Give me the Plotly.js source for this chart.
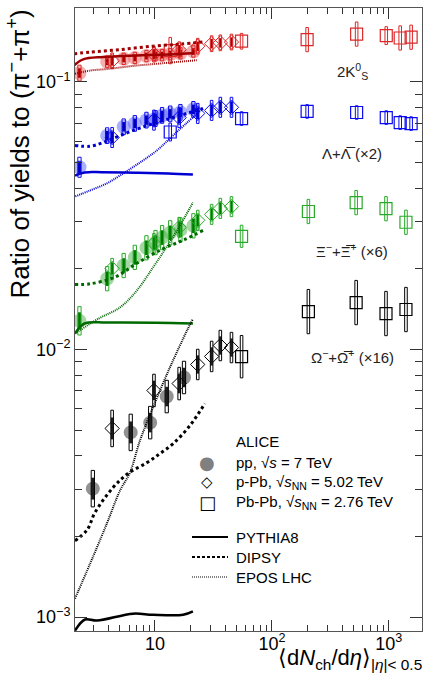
<!DOCTYPE html>
<html>
<head>
<meta charset="utf-8">
<script src="https://cdn.plot.ly/plotly-3.0.1.min.js"></script>
<style>html,body{margin:0;padding:0;background:#fff;}#chart{width:424px;height:685px;}</style>
</head>
<body>
<div id="chart"></div>
<script>
// ---------- multiplicity (x) values ----------
const xPP      = [2.26, 3.90, 5.40, 6.72, 8.45, 10.1, 11.5, 13.5, 16.5, 21.3];
const xPPOmega = [2.94, 6.2, 9.1, 12.6, 17.7];
const xPPb     = [4.3, 9.8, 16.1, 23.2, 30.5, 36.2, 45.1];
const xPbPbV0  = [13.5, 55, 200, 530, 950, 1250, 1550];
const xPbPbCas = [55, 205, 525, 945, 1400];

// ---------- 2K0S / (pi+ + pi-) ----------
const k0PP    = [0.108, 0.119, 0.122, 0.123, 0.125, 0.126, 0.126, 0.127, 0.128, 0.130];
const k0PPb   = [0.120, 0.127, 0.132, 0.136, 0.139, 0.140, 0.141];
const k0PbPb  = [0.131, 0.142, 0.144, 0.151, 0.149, 0.146, 0.147];
const k0PPSys   = [0.07, 0.05, 0.05, 0.05, 0.05, 0.05, 0.05, 0.05, 0.05, 0.05];
const k0PPbSys  = [0.07, 0.07, 0.07, 0.07, 0.07, 0.07, 0.07];
const k0PbPbSys = [0.12, 0.07, 0.11, 0.11, 0.08, 0.11, 0.11];

// ---------- Lambda (x2) ----------
const lamPP   = [0.048, 0.063, 0.068, 0.070, 0.072, 0.073, 0.075, 0.076, 0.077, 0.079];
const lamPPb  = [0.062, 0.072, 0.0736, 0.0763, 0.0783, 0.0804, 0.0804];
const lamPbPb = [0.065, 0.073, 0.0776, 0.0769, 0.0736, 0.0705, 0.0699];
const lamPPSys   = [0.09, 0.07, 0.07, 0.07, 0.07, 0.07, 0.07, 0.07, 0.07, 0.07];
const lamPPbSys  = [0.09, 0.09, 0.09, 0.09, 0.09, 0.09, 0.09];
const lamPbPbSys = [0.08, 0.06, 0.06, 0.06, 0.06, 0.06, 0.06];

// ---------- Xi (x6) ----------
const xiPP   = [0.0128, 0.0184, 0.0206, 0.0221, 0.0240, 0.0251, 0.0262, 0.0273, 0.0280, 0.0290];
const xiPPb  = [0.0201, 0.0249, 0.0286, 0.0304, 0.0320, 0.0337, 0.0342];
const xiPbPb = [0.0265, 0.0328, 0.0354, 0.0336, 0.0299];
const xiPPSys   = [0.13, 0.11, 0.11, 0.11, 0.11, 0.11, 0.11, 0.11, 0.11, 0.11];
const xiPPbSys  = [0.09, 0.09, 0.09, 0.09, 0.09, 0.09, 0.09];
const xiPbPbSys = [0.10, 0.11, 0.11, 0.11, 0.11];

// ---------- Omega (x16) ----------
const omPP   = [0.00302, 0.00490, 0.00533, 0.00667, 0.00786];
const omPPb  = [0.00507, 0.00703, 0.00746, 0.00879, 0.00942, 0.01035, 0.01017];
const omPbPb = [0.0094, 0.01386, 0.01498, 0.01363, 0.01411];
const omPPSys   = [0.17, 0.17, 0.15, 0.15, 0.15];
const omPPbSys  = [0.17, 0.15, 0.15, 0.14, 0.14, 0.14, 0.14];
const omPbPbSys = [0.20, 0.21, 0.21, 0.21, 0.21];

// ---------- models ----------
const pyK0x = [2.03, 2.43, 3.6, 7.0, 13.4, 21.1];
const pyK0y = [0.1152, 0.1214, 0.124, 0.1257, 0.1268, 0.128];
const diK0x = [2.03, 2.78, 5.02, 9.6, 16.4, 25.7];
const diK0y = [0.1275, 0.1293, 0.1321, 0.1361, 0.1385, 0.1411];
const epK0x = [2.07, 2.78, 3.88, 7.0, 11.7, 22.8];
const epK0y = [0.1073, 0.1103, 0.1118, 0.1152, 0.1175, 0.1206];

const pyLamx = [2.07, 2.5, 3.5, 7.0, 13.0, 21.1];
const pyLamy = [0.0447, 0.0459, 0.0460, 0.0458, 0.0455, 0.0451];
const diLamx = [2.07, 2.78, 3.6, 5.02, 7.6, 13.4, 25.7];
const diLamy = [0.0579, 0.0575, 0.0594, 0.063, 0.0675, 0.073, 0.0796];
const epLamx = [2.0, 2.78, 3.88, 5.02, 7.44, 10.4, 13.4, 18.1, 25.7];
const epLamy = [0.0371, 0.0393, 0.0418, 0.0447, 0.0500, 0.0555, 0.0615, 0.0694, 0.0796];

const pyXix = [2.07, 2.5, 3.88, 10.0, 21.1];
const pyXiy = [0.01148, 0.01251, 0.01261, 0.0126, 0.01251];
const diXix = [2.07, 2.78, 4.5, 7.0, 11.7, 17.4, 26.7];
const diXiy = [0.0175, 0.0176, 0.0186, 0.0210, 0.0238, 0.0256, 0.0281];
const epXix = [2.07, 3.3, 5.0, 7.0, 9.6, 12.5, 16.0, 21.1];
const epXiy = [0.01148, 0.01306, 0.01435, 0.01662, 0.02025, 0.02406, 0.02858, 0.03543];

const pyOmx = [2.07, 2.52, 3.19, 6.48, 9.6, 17.4, 21.1];
const pyOmy = [0.00089, 0.000979, 0.00097, 0.00103, 0.00102, 0.00102, 0.00105];
const diOmx = [2.07, 2.63, 3.07, 4.38, 5.88, 8.55, 11.0, 14.3, 19.9, 26.7];
const diOmy = [0.00193, 0.00212, 0.00246, 0.00305, 0.00344, 0.00378, 0.00408, 0.00445, 0.00520, 0.00628];
const epOmx = [2.07, 2.78, 3.88, 5.02, 6.11, 7.44, 9.6, 13.4, 18.8, 21.1];
const epOmy = [0.001173, 0.00158, 0.00224, 0.00297, 0.00347, 0.00457, 0.00607, 0.00856, 0.01178, 0.0130];

// ---------- tick labels ----------
const xTickVals = [10, 100, 1000];
const xTickText = ['10', '10<sup>2</sup>', '10<sup>3</sup>'];
const yTickVals = [0.001, 0.01, 0.1];
const yTickText = ['10<sup>−3</sup>', '10<sup>−2</sup>', '10<sup>−1</sup>'];

// ---------- styling ----------
const FONT = 'Liberation Sans, Arial, Helvetica, sans-serif';
const species = [
  {pp:[xPP,k0PP,k0PPSys], ppb:[xPPb,k0PPb,k0PPbSys], pbpb:[xPbPbV0,k0PbPb,k0PbPbSys],
   models:[[pyK0x,pyK0y],[diK0x,diK0y],[epK0x,epK0y]],
   circ:'rgba(238,110,110,0.55)', box:'rgb(220,40,40)', dark:'rgb(170,0,0)', line:'rgb(160,0,0)'},
  {pp:[xPP,lamPP,lamPPSys], ppb:[xPPb,lamPPb,lamPPbSys], pbpb:[xPbPbV0,lamPbPb,lamPbPbSys],
   models:[[pyLamx,pyLamy],[diLamx,diLamy],[epLamx,epLamy]],
   circ:'rgba(100,110,255,0.55)', box:'rgb(10,10,240)', dark:'rgb(0,0,180)', line:'rgb(0,0,210)'},
  {pp:[xPP,xiPP,xiPPSys], ppb:[xPPb,xiPPb,xiPPbSys], pbpb:[xPbPbCas,xiPbPb,xiPbPbSys],
   models:[[pyXix,pyXiy],[diXix,diXiy],[epXix,epXiy]],
   circ:'rgba(90,180,90,0.55)', box:'rgb(40,170,40)', dark:'rgb(0,120,0)', line:'rgb(0,105,0)'},
  {pp:[xPPOmega,omPP,omPPSys], ppb:[xPPb,omPPb,omPPbSys], pbpb:[xPbPbCas,omPbPb,omPbPbSys],
   models:[[pyOmx,pyOmy],[diOmx,diOmy],[epOmx,epOmy]],
   circ:'rgba(110,110,110,0.75)', box:'rgb(0,0,0)', dark:'rgb(30,30,30)', line:'rgb(0,0,0)'}
];

function boxTrace(xs, ys, rel, halfDec, color, width) {
  const f = Math.pow(10, halfDec);
  const X = [], Y = [];
  xs.forEach((x, i) => {
    const hi = ys[i] * (1 + rel[i]), lo = ys[i] / (1 + rel[i]);
    X.push(x / f, x * f, x * f, x / f, x / f, null);
    Y.push(lo, lo, hi, hi, lo, null);
  });
  return {type:'scatter', mode:'lines', x:X, y:Y, line:{color:color, width:width||1},
          hoverinfo:'skip', showlegend:false};
}
function darkBars(xs, ys, rel, color, th) {
  return {type:'scatter', mode:'markers', x:xs, y:ys, marker:{size:0.1, color:'rgba(0,0,0,0)'},
    error_y:{type:'data', symmetric:false,
      array: ys.map((y,i)=> y*(Math.pow(1+rel[i],0.6)-1)),
      arrayminus: ys.map((y,i)=> y*(1-1/Math.pow(1+rel[i],0.6))),
      thickness: th, width:0, color:color},
    hoverinfo:'skip', showlegend:false};
}

const traces = [];
species.forEach(s => {
  traces.push({type:'scatter', mode:'markers', x:s.pp[0], y:s.pp[1],
    marker:{symbol:'circle', size:14, color:s.circ, line:{width:0}}, showlegend:false});
  traces.push(darkBars(s.pp[0], s.pp[1], s.pp[2], s.dark, 3));
  traces.push(boxTrace(s.pp[0], s.pp[1], s.pp[2], 0.014, s.box, 1));
  traces.push({type:'scatter', mode:'markers', x:s.ppb[0], y:s.ppb[1],
    marker:{symbol:'diamond-open', size:11, color:s.box, line:{width:1}}, showlegend:false});
  traces.push(darkBars(s.ppb[0], s.ppb[1], s.ppb[2], s.dark, 2.5));
  traces.push(boxTrace(s.ppb[0], s.ppb[1], s.ppb[2], 0.011, s.box, 1));
  traces.push({type:'scatter', mode:'markers', x:s.pbpb[0], y:s.pbpb[1],
    marker:{symbol:'square-open', size:12, color:s.box, line:{width:1.2}}, showlegend:false});
  traces.push(boxTrace(s.pbpb[0], s.pbpb[1], s.pbpb[2], 0.011, s.box, 1));
});
species.forEach(s => {
  traces.push({type:'scatter', mode:'lines', x:s.models[0][0], y:s.models[0][1],
    line:{color:s.line, width:2.5, shape:'spline'}, showlegend:false, hoverinfo:'skip'});
  traces.push({type:'scatter', mode:'lines', x:s.models[1][0], y:s.models[1][1],
    line:{color:s.line, width:3, dash:'3px,3px', shape:'spline'}, showlegend:false, hoverinfo:'skip'});
  traces.push({type:'scatter', mode:'lines', x:s.models[2][0], y:s.models[2][1],
    line:{color:s.line, width:2, dash:'1px,1px', shape:'spline'}, showlegend:false, hoverinfo:'skip'});
});

const L = 75, R = 422, T = 8, B = 631;
const px = v => (v - L) / (R - L);
const py = v => (B - v) / (B - T);

const ann = [];
function txt(text, x, y, opts) {
  ann.push(Object.assign({text:text, xref:'paper', yref:'paper', x:px(x), y:py(y),
    showarrow:false, font:{family:FONT, size:15, color:'#000'}, xanchor:'center', yanchor:'middle'}, opts||{}));
}
txt('2K<sup>0</sup><sub>S</sub>', 352, 71, {font:{family:FONT, size:15, color:'#222'}});
txt('Λ+Λ̅ (×2)', 352, 153, {font:{family:FONT, size:15, color:'#222'}});
txt('Ξ<sup>−</sup>+Ξ̅<sup>+</sup> (×6)', 352, 250, {font:{family:FONT, size:15, color:'#222'}});
txt('Ω<sup>−</sup>+Ω̅<sup>+</sup> (×16)', 352, 356, {font:{family:FONT, size:15, color:'#222'}});

txt('ALICE', 234, 441, {xanchor:'left'});
txt('●', 207, 462, {font:{family:'DejaVu Sans', size:18, color:'rgb(128,128,128)'}});
txt('pp, √<i>s</i> = 7 TeV', 234, 462, {xanchor:'left'});
txt('◇', 207, 482, {font:{family:'DejaVu Sans', size:15, color:'#000'}});
txt('p-Pb, √<i>s</i><sub>NN</sub> = 5.02 TeV', 234, 482, {xanchor:'left'});
txt('□', 207, 502, {font:{family:'DejaVu Sans', size:18, color:'#000'}});
txt('Pb-Pb, √<i>s</i><sub>NN</sub> = 2.76 TeV', 234, 502, {xanchor:'left'});
txt('PYTHIA8', 234, 537, {xanchor:'left'});
txt('DIPSY', 234, 557, {xanchor:'left'});
txt('EPOS LHC', 234, 577, {xanchor:'left'});

txt('Ratio of yields to (π<sup>−</sup>+π<sup>+</sup>)', 19, 8,
  {textangle:-90, yanchor:'top', font:{family:FONT, size:26, color:'#000'}});
txt('⟨d<i>N</i><sub>ch</sub>/d<i>η</i>⟩<sub>|<i>η</i>|< 0.5</sub>', 424, 643,
  {xanchor:'right', yanchor:'top', font:{family:FONT, size:22, color:'#000'}});

const shapes = [
  {type:'line', xref:'paper', yref:'paper', x0:px(192), x1:px(228), y0:py(537), y1:py(537), line:{color:'#000', width:2}},
  {type:'line', xref:'paper', yref:'paper', x0:px(192), x1:px(228), y0:py(557), y1:py(557), line:{color:'#000', width:2, dash:'3px,2px'}},
  {type:'line', xref:'paper', yref:'paper', x0:px(192), x1:px(228), y0:py(577), y1:py(577), line:{color:'#000', width:1, dash:'1px,1px'}}
];

const minorX = [3,4,5,6,7,8,9,20,30,40,50,60,70,80,90,200,300,400,500,600,700,800,900];
const minorY = [0.002,0.003,0.004,0.005,0.006,0.007,0.008,0.009,
                0.02,0.03,0.04,0.05,0.06,0.07,0.08,0.09];

const layout = {
  width:424, height:685,
  margin:{l:L, r:424-R, t:T, b:685-B},
  paper_bgcolor:'#fff', plot_bgcolor:'#fff',
  font:{family:FONT, size:18, color:'#000'},
  showlegend:false,
  xaxis:{type:'log', range:[Math.log10(2.07), Math.log10(1920)], showgrid:false, zeroline:false,
    showline:true, linecolor:'#555', linewidth:1, mirror:'ticks',
    ticks:'inside', ticklen:11, tickcolor:'#333', tickwidth:1,
    tickmode:'array', tickvals:xTickVals, ticktext:xTickText,
    tickfont:{family:FONT, size:18}, ticklabelstandoff:-4,
    minor:{ticks:'inside', ticklen:6, tickcolor:'#333', tickmode:'array', tickvals:minorX}},
  yaxis:{type:'log', range:[Math.log10(0.000887), Math.log10(0.189)], showgrid:false, zeroline:false,
    showline:true, linecolor:'#555', linewidth:1, mirror:'ticks',
    ticks:'inside', ticklen:12, tickcolor:'#333', tickwidth:1,
    tickmode:'array', tickvals:yTickVals, ticktext:yTickText,
    tickfont:{family:FONT, size:18},
    minor:{ticks:'inside', ticklen:7, tickcolor:'#333', tickmode:'array', tickvals:minorY}},
  annotations:ann,
  shapes:shapes
};

Plotly.newPlot('chart', traces, layout, {staticPlot:true, displayModeBar:false});
</script>
</body>
</html>
